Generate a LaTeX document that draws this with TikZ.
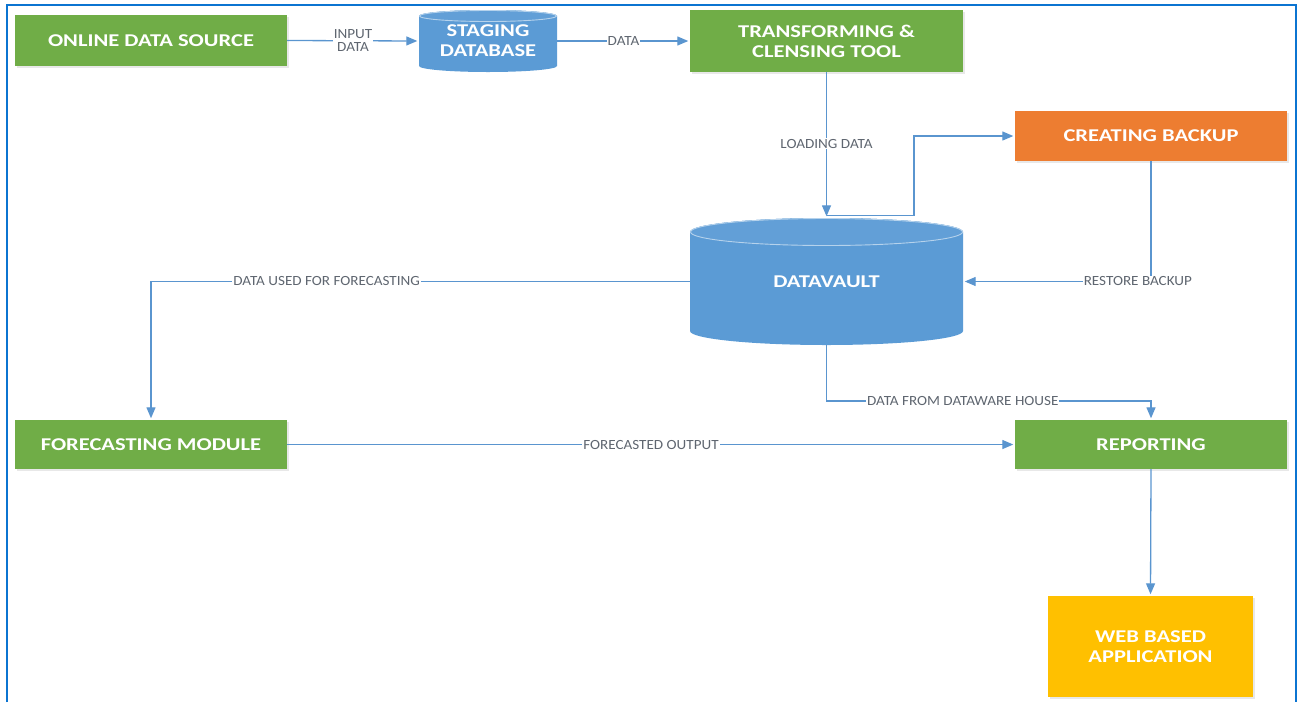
\documentclass[tikz,border=0pt]{standalone}
\usepackage{fontspec}
\setmainfont{Carlito}
\newfontfamily\boxfont[FakeStretch=1.25]{Carlito}
\newfontfamily\labfont[FakeStretch=1.08]{Carlito}
\usetikzlibrary{arrows.meta,shadows}

\definecolor{boxgreen}{HTML}{70AD47}
\definecolor{boxorange}{HTML}{ED7D31}
\definecolor{boxyellow}{HTML}{FFC000}
\definecolor{dbblue}{HTML}{5B9BD5}
\definecolor{dbtop}{HTML}{629FD7}
\definecolor{lineblue}{HTML}{5A95CF}
\definecolor{framblue}{HTML}{0B74D1}
\definecolor{labgray}{HTML}{5F6670}

\begin{document}
\begin{tikzpicture}[x=1pt,y=-1pt,
  boxtxt/.style={text=white, align=center, inner sep=0pt,
    font=\boxfont\bfseries\fontsize{18}{20}\selectfont},
  box/.style={rectangle, fill=#1, boxtxt,
    drop shadow={shadow xshift=1.5pt, shadow yshift=-1.5pt, opacity=0.18}},
  % cylinder drawn inside a rectangular node: width, height, end radius
  db/.style n args={3}{rectangle, boxtxt, minimum width=#1pt, minimum height=#2pt,
    path picture={
      \fill[dbblue] ([yshift=-#3pt]path picture bounding box.north west)
        -- ([yshift=#3pt]path picture bounding box.south west)
        arc[start angle=180, end angle=360, x radius=#1/2*1pt, y radius=#3pt]
        -- ([yshift=-#3pt]path picture bounding box.north east)
        arc[start angle=0, end angle=180, x radius=#1/2*1pt, y radius=#3pt]
        -- cycle;
      \fill[dbtop] ([yshift=-#3pt]path picture bounding box.north)
        ellipse[x radius=#1/2*1pt, y radius=#3pt];
      \draw[white!55!dbblue, line width=0.9pt] ([yshift=-#3pt]path picture bounding box.north)
        ellipse[x radius=#1/2*1pt-0.5pt, y radius=#3pt-0.5pt];
    }},
  conn/.style={draw=lineblue, line width=1.3pt, shorten >=1.5pt,
    -{Triangle[length=11pt,width=9pt]}},
  lab/.style={fill=white, text=labgray, inner sep=1pt, align=center,
    font=\labfont\fontsize{14}{13}\selectfont}
]
\useasboundingbox (0,0) rectangle (1298,702);

% open frame (no bottom edge)
\draw[framblue, line width=2.4pt] (7,702) -- (7,5) -- (1296,5) -- (1296,702);

% process boxes
\node[box=boxgreen, minimum width=272pt, minimum height=51pt] (ods) at (151,40.5) {ONLINE DATA SOURCE};
\node[db={138}{62}{6}] (stg) at (488,41) {STAGING\\DATABASE};
\node[box=boxgreen, minimum width=273pt, minimum height=62pt] (tct) at (826.5,41) {TRANSFORMING \&\\CLENSING TOOL};
\node[box=boxorange, minimum width=272pt, minimum height=50pt] (cb) at (1151,136) {CREATING BACKUP};
\node[db={273}{127}{14}] (dv) at (826.5,281.5) {DATAVAULT};
\node[box=boxgreen, minimum width=272pt, minimum height=49pt] (fm) at (151,444.5) {FORECASTING MODULE};
\node[box=boxgreen, minimum width=272pt, minimum height=49pt] (rp) at (1151,444.5) {REPORTING};
\node[box=boxyellow, minimum width=205pt, minimum height=101pt] (web) at (1150.5,646.5) {WEB BASED\\APPLICATION};

% bend points
\coordinate (bk) at (914,160);
\coordinate (dwh) at (1151,401);

% connectors
\draw[conn] (ods.east) -- node[lab] {INPUT\\DATA} (stg.west);
\draw[conn] (stg.east) -- node[lab] {DATA} (tct.west);
\draw[conn] (tct.south) -- node[lab, pos=0.49] {LOADING DATA} (dv.north);
\draw[conn] ([yshift=2pt]dv.north) -| (bk) |- (cb.west);
\draw[conn] (cb.south) |- node[lab, pos=0.535] {RESTORE BACKUP} (dv.east);
\draw[conn] (dv.west) -| node[lab, pos=0.337] {DATA USED FOR FORECASTING} (fm.north);
\draw[conn] (dv.south) |- node[lab, pos=0.71] {DATA FROM DATAWARE HOUSE} (dwh) -- (rp.north);
\draw[conn] (fm.east) -- node[lab] {FORECASTED OUTPUT} (rp.west);
\draw[conn] (rp.south) -- (web.north);
\end{tikzpicture}
\end{document}
